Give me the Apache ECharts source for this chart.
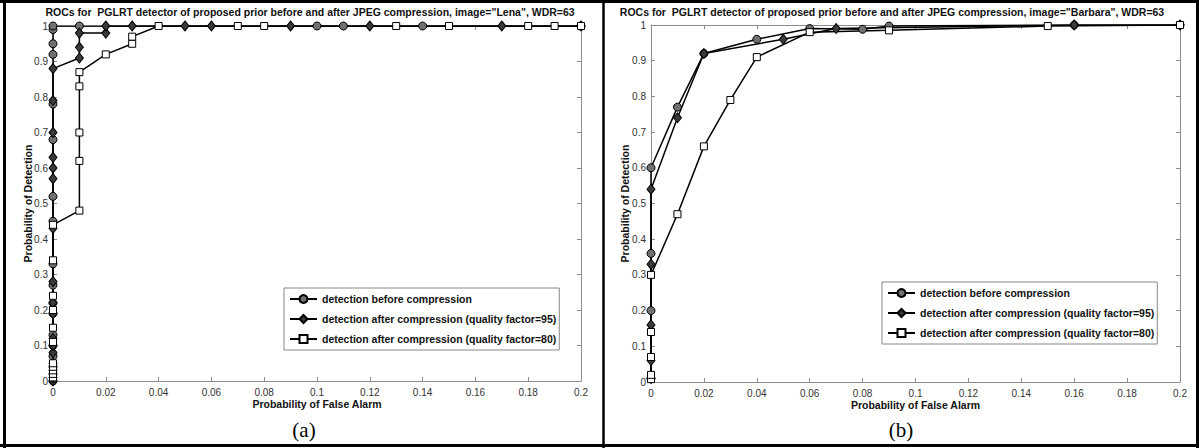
<!DOCTYPE html>
<html><head><meta charset="utf-8">
<script src="https://cdn.jsdelivr.net/npm/echarts@6/dist/echarts.min.js"></script>
<style>html,body{margin:0;padding:0;background:#fff}#c{width:1199px;height:448px}</style>
</head><body><div id="c"></div>
<script>
// ---- data ----
const seriesNames = ['detection before compression','detection after compression (quality factor=95)','detection after compression (quality factor=80)'];
const titles = ['ROCs for  PGLRT detector of proposed prior before and after JPEG compression, image="Lena", WDR=63',
                'ROCs for  PGLRT detector of proposed prior before and after JPEG compression, image="Barbara", WDR=63'];
const captions = ['(a)','(b)'];
const xTitle = 'Probability of False Alarm';
const yTitle = 'Probability of Detection';

const lenaBefore = [[0,0],[0,0.02],[0,0.04],[0,0.07],[0,0.10],[0,0.13],[0,0.19],[0,0.22],[0,0.27],[0,0.33],[0,0.45],[0,0.52],[0,0.68],[0,0.78],[0,0.92],[0,0.95],[0,0.99],[0,1],
  [0.01,1],[0.10,1],[0.11,1],[0.14,1],[0.20,1]];
const lenaQ95 = [[0,0],[0,0.01],[0,0.03],[0,0.05],[0,0.08],[0,0.10],[0,0.12],[0,0.19],[0,0.22],[0,0.28],[0,0.43],[0,0.57],[0,0.60],[0,0.63],[0,0.70],[0,0.79],[0,0.88],
  [0.01,0.91],[0.01,0.94],[0.01,0.98],[0.02,0.98],[0.02,1],[0.03,1],[0.05,1],[0.06,1],[0.09,1],[0.12,1],[0.17,1],[0.20,1]];
const lenaQ80 = [[0,0.01],[0,0.02],[0,0.03],[0,0.04],[0,0.05],[0,0.11],[0,0.15],[0,0.20],[0,0.24],[0,0.34],[0,0.44],
  [0.01,0.48],[0.01,0.62],[0.01,0.70],[0.01,0.83],[0.01,0.87],[0.02,0.92],[0.03,0.95],[0.03,0.97],[0.04,1],[0.07,1],[0.08,1],[0.13,1],[0.15,1],[0.18,1],[0.19,1],[0.20,1]];

const barbBefore = [[0,0.01],[0,0.20],[0,0.36],[0,0.60],[0.01,0.77],[0.02,0.92],[0.04,0.96],[0.06,0.99],[0.08,0.988],[0.09,0.997],[0.16,1],[0.20,1]];
const barbQ95 = [[0,0.01],[0,0.06],[0,0.16],[0,0.33],[0,0.54],[0.01,0.74],[0.02,0.92],[0.05,0.96],[0.07,0.99],[0.16,1],[0.20,1]];
const barbQ80 = [[0,0.008],[0,0.02],[0,0.07],[0,0.14],[0,0.30],[0.01,0.47],[0.02,0.66],[0.03,0.79],[0.04,0.91],[0.06,0.98],[0.09,0.985],[0.15,0.997],[0.20,1]];

const xMin = 0, xMax = 0.2, xStep = 0.02;
const yMin = 0, yMax = 1, yStep = 0.1;

// ---- chart ----
const chart = echarts.init(document.getElementById('c'), null, {renderer:'svg'});
const AX = '#8c8c8c';
const FONT = 'Arial, "Liberation Sans", sans-serif';
const grids = [
  {left:53, top:26, width:528, height:355},
  {left:651, top:25, width:529, height:357}
];
function xAx(g, pos, showLabel, name, gap){
  return {type:'value', gridIndex:g, position:pos, min:xMin, max:xMax, interval:xStep,
    axisLine:{show:true, onZero:false, lineStyle:{color:AX, width:1}},
    axisTick:{show:true, inside:true, length:4, lineStyle:{color:AX}},
    splitLine:{show:false},
    axisLabel:{show:showLabel, color:'#333', fontSize:10, fontFamily:FONT, margin:6},
    name: name||'', nameLocation:'middle', nameGap:gap||0, nameMoveOverlap:false,
    nameTextStyle:{fontWeight:'bold', fontSize:10.5, color:'#111', fontFamily:FONT}};
}
function yAx(g, pos, showLabel, name, gap){
  return {type:'value', gridIndex:g, position:pos, min:yMin, max:yMax, interval:yStep,
    axisLine:{show:true, onZero:false, lineStyle:{color:AX, width:1}},
    axisTick:{show:true, inside:true, length:4, lineStyle:{color:AX}},
    splitLine:{show:false},
    axisLabel:{show:showLabel, color:'#333', fontSize:10, fontFamily:FONT, margin:5},
    name: name||'', nameLocation:'middle', nameGap:gap||0, nameRotate:90, nameMoveOverlap:false,
    nameTextStyle:{fontWeight:'bold', fontSize:10.5, color:'#111', fontFamily:FONT}};
}
const styles = [
  {symbol:'circle', symbolSize:8, color:'#707070'},
  {symbol:'diamond', symbolSize:[8,10], color:'#3a3a3a'},
  {symbol:'rect', symbolSize:7, color:'#ffffff'}
];
function mk(i, data, xi, yi){
  const s = styles[i];
  return {type:'line', name:seriesNames[i], data:data, xAxisIndex:xi, yAxisIndex:yi,
    symbol:s.symbol, symbolSize:s.symbolSize, showAllSymbol:true, animation:false,
    lineStyle:{color:'#000', width:1.5},
    itemStyle:{color:s.color, borderColor:'#000', borderWidth:1}};
}
function legend(left, top){
  return {orient:'vertical', left:left, top:top, data:seriesNames,
    itemWidth:27, itemHeight:10, itemGap:6, padding:[4,3,4,5],
    backgroundColor:'#fff', borderColor:'#888', borderWidth:1, borderRadius:0,
    selectedMode:false,
    textStyle:{fontWeight:'bold', fontSize:10.5, color:'#111', fontFamily:FONT, lineHeight:14}};
}
chart.setOption({
  animation:false,
  grid: grids,
  xAxis:[xAx(0,'bottom',true,xTitle,17), xAx(0,'top',false), xAx(1,'bottom',true,xTitle,17), xAx(1,'top',false)],
  yAxis:[yAx(0,'left',true,yTitle,20), yAx(0,'right',false), yAx(1,'left',true,yTitle,21), yAx(1,'right',false)],
  legend:[legend(284,288), legend(882,282)],
  series:[
    mk(0, lenaBefore, 0, 0), mk(1, lenaQ95, 0, 0), mk(2, lenaQ80, 0, 0),
    mk(0, barbBefore, 2, 2), mk(1, barbQ95, 2, 2), mk(2, barbQ80, 2, 2)
  ],
  graphic:[
    {type:'text', x:310, y:12, style:{text:titles[0], textAlign:'center', textVerticalAlign:'middle', font:'bold 10.5px '+FONT, fill:'#111'}},
    {type:'text', x:892, y:12, style:{text:titles[1], textAlign:'center', textVerticalAlign:'middle', font:'bold 10.5px '+FONT, fill:'#111'}},
    {type:'text', x:304, y:430, style:{text:captions[0], textAlign:'center', textVerticalAlign:'middle', font:'21px "Liberation Serif", "Times New Roman", serif', fill:'#000'}},
    {type:'text', x:901, y:430, style:{text:captions[1], textAlign:'center', textVerticalAlign:'middle', font:'21px "Liberation Serif", "Times New Roman", serif', fill:'#000'}},
    {type:'line', shape:{x1:4.5,y1:0,x2:4.5,y2:448}, style:{stroke:'#000', lineWidth:3}},
    {type:'line', shape:{x1:0,y1:1.5,x2:1199,y2:1.5}, style:{stroke:'#000', lineWidth:3}},
    {type:'line', shape:{x1:1197.5,y1:0,x2:1197.5,y2:448}, style:{stroke:'#000', lineWidth:3}},
    {type:'line', shape:{x1:0,y1:445.5,x2:1199,y2:445.5}, style:{stroke:'#000', lineWidth:3}},
    {type:'line', shape:{x1:603.5,y1:0,x2:603.5,y2:448}, style:{stroke:'#000', lineWidth:2.5}}
  ]
});
</script></body></html>
